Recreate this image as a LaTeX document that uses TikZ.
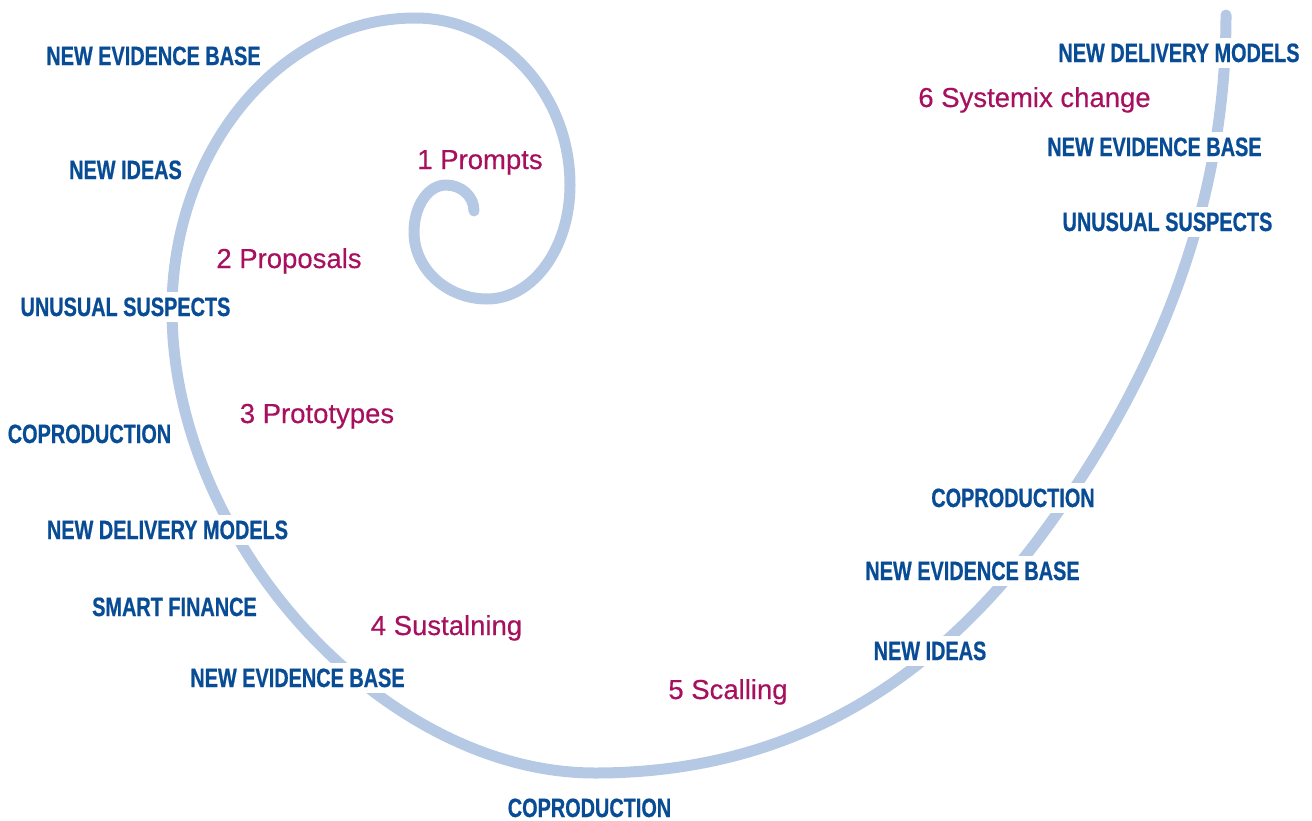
\documentclass[tikz,border=0pt]{standalone}
\usepackage{fontspec}
\setmainfont{Liberation Sans}
\newfontfamily\bluefont{Liberation Sans}[FakeStretch=0.75,FakeBold=0.6]
\newfontfamily\stagefont{Liberation Sans}[FakeBold=0.35]
\definecolor{spiralblue}{RGB}{181,200,228}
\definecolor{labelblue}{RGB}{8,76,150}
\definecolor{stagered}{RGB}{166,16,94}
\tikzset{
  spiral/.style={draw=spiralblue, line width=11pt, line cap=round, line join=round},
  theme/.style={text=labelblue, fill=white, anchor=base, inner xsep=4pt, inner ysep=6pt,
    font=\bluefont\bfseries\fontsize{26.5}{26.5}\selectfont},
  stage/.style={text=stagered, anchor=base, inner sep=0pt,
    font=\stagefont\fontsize{27.5}{27.5}\selectfont}
}
\begin{document}
\begin{tikzpicture}[x=1pt,y=-1pt]
\useasboundingbox (0,0) rectangle (1312,820);
% key points of the spiral
\coordinate (p0) at (474,211);
\coordinate (p1) at (446,185);
\coordinate (p2) at (414,232);
\coordinate (p3) at (487,299);
\coordinate (p4) at (570,185);
\coordinate (p5) at (415,18);
\coordinate (p6) at (172,310);
\coordinate (p7) at (595,773);
\coordinate (q)  at (1043,533);
\coordinate (p8) at (1226,15);
% spiral
\draw[spiral] (p0)
  .. controls (474,196) and (461,185) .. (p1)
  .. controls (428,185) and (414,206) .. (p2)
  .. controls (414,269) and (447,299) .. (p3)
  .. controls (533,299) and (570,248) .. (p4)
  .. controls (570,93) and (500,18) .. (p5)
  .. controls (281,18) and (172,149) .. (p6)
  .. controls (172,541) and (383,773) .. (p7)
  .. controls (795,773) and (936,678) .. (q)
  .. controls (1149.7,388) and (1226,215) .. (p8);
% theme labels
\node[theme] (t1)  at (153.5,65)  {NEW EVIDENCE BASE};
\node[theme] (t2)  at (125.5,179) {NEW IDEAS};
\node[theme] (t3)  at (125.5,316) {UNUSUAL SUSPECTS};
\node[theme] (t4)  at (89.5,443)  {COPRODUCTION};
\node[theme] (t5)  at (167.5,539) {NEW DELIVERY MODELS};
\node[theme] (t6)  at (174.5,616) {SMART FINANCE};
\node[theme] (t7)  at (297.5,687) {NEW EVIDENCE BASE};
\node[theme] (t8)  at (589.5,817) {COPRODUCTION};
\node[theme] (t9)  at (930,660)   {NEW IDEAS};
\node[theme] (t10) at (972.5,580) {NEW EVIDENCE BASE};
\node[theme] (t11) at (1013,507)  {COPRODUCTION};
\node[theme] (t12) at (1167.5,231) {UNUSUAL SUSPECTS};
\node[theme] (t13) at (1154.5,156) {NEW EVIDENCE BASE};
\node[theme] (t14) at (1179,62)   {NEW DELIVERY MODELS};
% stage labels
\node[stage] (s1) at (480,169)   {1 Prompts};
\node[stage] (s2) at (289,268)   {2 Proposals};
\node[stage] (s3) at (317,423)   {3 Prototypes};
\node[stage] (s4) at (446.5,635) {4 Sustalning};
\node[stage] (s5) at (728,699)   {5 Scalling};
\node[stage] (s6) at (1034.5,107) {6 Systemix change};
\end{tikzpicture}
\end{document}
